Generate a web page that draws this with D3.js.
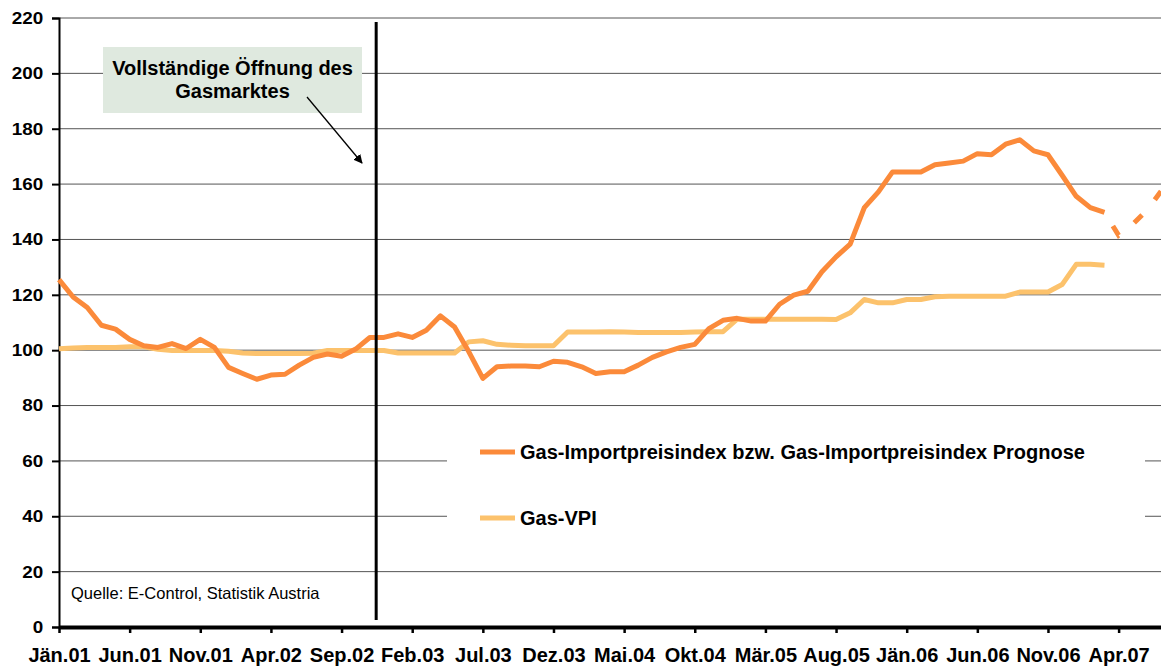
<!DOCTYPE html>
<html><head><meta charset="utf-8">
<script src="https://cdn.jsdelivr.net/npm/d3@7"></script>
<style>
body{margin:0;background:#fff;}
text{font-family:"Liberation Sans",Arial,sans-serif;}
</style></head>
<body><svg id="c" width="1161" height="668"></svg>
<script>
// ---- data ----
const monthNames = ["Jän","Feb","Mär","Apr","Mai","Jun","Jul","Aug","Sep","Okt","Nov","Dez"];
const years = ["01","02","03","04","05","06","07"];
const monthCount = 79; // Jän.01 .. Jul.07
const tickLabels = ["Jän.01","Jun.01","Nov.01","Apr.02","Sep.02","Feb.03","Jul.03","Dez.03","Mai.04","Okt.04","Mär.05","Aug.05","Jän.06","Jun.06","Nov.06","Apr.07"];
const yTicks = [0,20,40,60,80,100,120,140,160,180,200,220];

const importIndex = [125.5,119.2,115.4,109,107.6,103.9,101.6,101,102.4,100.6,103.9,101,
  93.8,91.6,89.5,91,91.3,94.6,97.4,98.6,97.8,100.4,104.6,104.6,
  105.9,104.6,107.2,112.4,108.4,99.5,89.8,94,94.3,94.3,94,96,
  95.6,94,91.6,92.2,92.2,94.6,97.4,99.4,101,102.1,107.8,110.8,
  111.5,110.5,110.5,116.6,119.9,121.3,128.3,133.7,138.3,151.5,157.2,164.4,
  164.4,164.4,167,167.6,168.3,171,170.6,174.4,176,172,170.6,163.2,
  155.6,151.5,149.8];
const prognoseStart = 74; // Mär.07
const prognose = [149.8,141.5,145.5,150.5,157.4];
const gasVPI = [100.5,100.8,101,101,101,101.2,101.2,100.3,99.9,99.9,99.9,99.9,
  99.6,99.0,98.8,98.8,98.8,98.8,98.9,99.9,99.9,99.9,99.9,99.9,
  99,99,99,99,99,103,103.4,102.1,101.8,101.6,101.6,101.6,
  106.6,106.6,106.6,106.7,106.6,106.4,106.4,106.4,106.4,106.6,106.7,106.7,
  111.2,111.2,111.2,111.2,111.2,111.2,111.2,111.1,113.5,118.3,117.1,117.1,
  118.3,118.3,119.3,119.5,119.5,119.5,119.5,119.5,121,121,121,123.7,
  131,131,130.7];
const seriesNames = ["Gas-Importpreisindex bzw. Gas-Importpreisindex Prognose","Gas-VPI"];
const colors = ["#FB8A3A","#FCC26C"];
const openingIndex = 22.45; // Vollständige Öffnung des Gasmarktes
const annotation = ["Vollständige Öffnung des","Gasmarktes"];
const source = "Quelle: E-Control, Statistik Austria";

// ---- chart ----
const months = [];
for (let i=0;i<monthCount;i++) months.push(monthNames[i%12]+"."+years[Math.floor(i/12)]);

const svg = d3.select("#c");
const x0 = 59, xEnd = 1161, yTop = 18, yBot = 627;
const x = d3.scaleLinear().domain([0, monthCount-1]).range([x0, xEnd]);
const y = d3.scaleLinear().domain([0,220]).range([yBot, yTop]);
const FONT = "Liberation Sans, Arial, sans-serif";

// gridlines
svg.append("g").selectAll("line").data(yTicks.filter(d=>d>0)).join("line")
  .attr("x1",x0).attr("x2",xEnd).attr("y1",d=>y(d)).attr("y2",d=>y(d))
  .attr("stroke","#555").attr("stroke-width",1);

// legend background (covers gridlines)
svg.append("rect").attr("x",447).attr("y",420).attr("width",698).attr("height",130).attr("fill","#fff");

// y axis
const yAxis = svg.append("g").attr("transform",`translate(${x0},0)`)
  .call(d3.axisLeft(y).tickValues(yTicks).tickSize(7).tickPadding(9));
yAxis.select(".domain").attr("stroke","#000").attr("stroke-width",2);
yAxis.selectAll(".tick line").attr("stroke","#000").attr("stroke-width",2);
yAxis.selectAll("text").attr("font-size",17).attr("font-weight","bold").attr("fill","#000")
  .attr("font-family",FONT).attr("x",-15.7)
  .attr("textLength",d=>String(d).length*10.5).attr("lengthAdjust","spacingAndGlyphs");

// x axis
const tickIdx = tickLabels.map(l=>months.indexOf(l));
const xAxis = svg.append("g").attr("transform",`translate(0,${yBot})`)
  .call(d3.axisBottom(x).tickValues(tickIdx).tickFormat(i=>months[i]).tickSize(6).tickPadding(15).tickSizeOuter(0));
xAxis.select(".domain").attr("stroke","#000").attr("stroke-width",4);
xAxis.selectAll(".tick line").attr("stroke","#000").attr("stroke-width",2.5);
xAxis.selectAll("text").attr("font-size",20).attr("font-weight","bold").attr("fill","#000")
  .attr("font-family",FONT);

// lines
const line = d3.line().x(d=>x(d.i)).y(d=>y(d.v));
svg.append("path").datum(gasVPI.map((v,i)=>({i,v})))
  .attr("d",line).attr("fill","none").attr("stroke",colors[1]).attr("stroke-width",5).attr("stroke-linejoin","round");
svg.append("path").datum(importIndex.map((v,i)=>({i,v})))
  .attr("d",line).attr("fill","none").attr("stroke",colors[0]).attr("stroke-width",5).attr("stroke-linejoin","round");
svg.append("path").datum(prognose.map((v,k)=>({i:prognoseStart+k,v})))
  .attr("d",line).attr("fill","none").attr("stroke",colors[0]).attr("stroke-width",5)
  .attr("stroke-dasharray","11,20").attr("stroke-dashoffset",-16);

// vertical opening line
svg.append("line").attr("x1",x(openingIndex)).attr("x2",x(openingIndex))
  .attr("y1",22).attr("y2",620).attr("stroke","#000").attr("stroke-width",3);

// annotation box
svg.append("rect").attr("x",103).attr("y",47).attr("width",259).attr("height",66).attr("fill","#DFE9DF");
svg.append("g").selectAll("text").data(annotation).join("text")
  .attr("x",232.5).attr("y",(d,i)=>75+i*23.3).attr("text-anchor","middle")
  .attr("font-size",20).attr("font-weight","bold").attr("fill","#000").text(d=>d);
svg.append("defs").append("marker").attr("id","ah").attr("viewBox","0 0 10 10")
  .attr("refX",9).attr("refY",5).attr("markerWidth",9).attr("markerHeight",9).attr("markerUnits","userSpaceOnUse")
  .attr("orient","auto").append("path").attr("d","M0,0L10,5L0,10z").attr("fill","#000");
svg.append("line").attr("x1",307).attr("y1",97).attr("x2",362).attr("y2",163)
  .attr("stroke","#000").attr("stroke-width",1.3).attr("marker-end","url(#ah)");

// legend
const lg = svg.append("g");
seriesNames.forEach((n,k)=>{
  const yy = k===0 ? 452 : 518;
  lg.append("line").attr("x1",480).attr("x2",515).attr("y1",yy).attr("y2",yy)
    .attr("stroke",colors[k]).attr("stroke-width",5);
  lg.append("text").attr("x",520).attr("y",yy+7).attr("font-size",20).attr("font-weight","bold")
    .attr("fill","#000").text(n);
});

// source
svg.append("text").attr("x",71).attr("y",599).attr("font-size",16.5).attr("fill","#000").text(source);
</script></body></html>
